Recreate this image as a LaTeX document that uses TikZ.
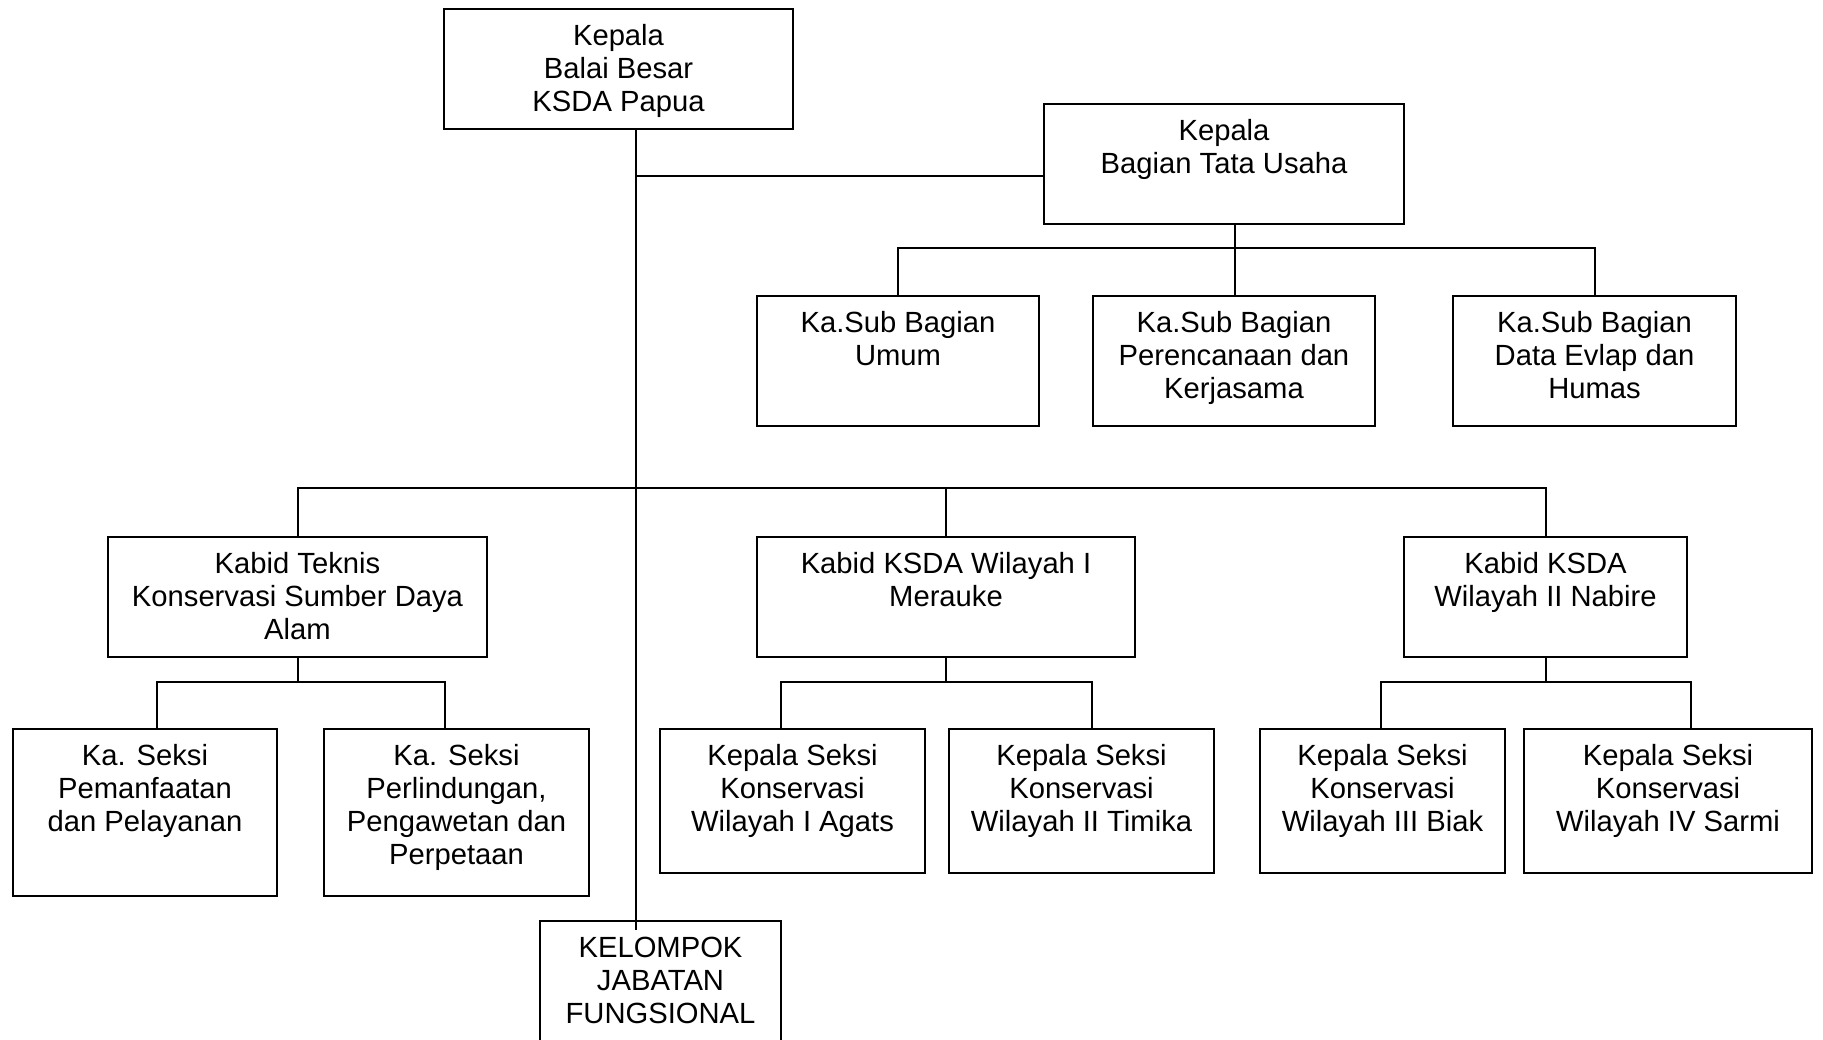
\documentclass[tikz,border=0pt]{standalone}
\usepackage{fontspec}
\setmainfont{Liberation Sans}
\usepackage{tikz}
\usetikzlibrary{positioning}
\usetikzlibrary{calc}

% text of a box, set from the top
\newcommand{\boxlines}[3]{\parbox[t][#2][t]{#1}{\centering\vspace*{6.5pt}\strut#3}}

\begin{document}
\begin{tikzpicture}[x=0.5pt, y=-0.5pt, line width=1pt,
  box/.style={draw, line width=1pt, inner sep=0pt, anchor=north west},
  font=\fontsize{14.6}{16.5}\selectfont]

\useasboundingbox (0,0) rectangle (1823,1039);
\clip (0,0) rectangle (1823,1039);

% top of the chart
\node [box](kepala) at (443,8) {\boxlines{174.5pt}{60pt}{Kepala\\Balai Besar\\KSDA Papua}};
\node [box](tu) at (1043,103) {\boxlines{180pt}{60pt}{Kepala\\Bagian Tata Usaha}};

% sub bagian
\node [box](umum) at (756,295) {\boxlines{141pt}{65pt}{Ka.Sub Bagian\\Umum}};
\node [box](renc) at (1092,295) {\boxlines{141pt}{65pt}{Ka.Sub Bagian\\Perencanaan dan\\Kerjasama}};
\node [box](data) at (1452,295) {\boxlines{141.5pt}{65pt}{Ka.Sub Bagian\\Data Evlap dan\\Humas}};

% kabid
\node [box](teknis) at (107,536) {\boxlines{189.5pt}{60pt}{Kabid Teknis\\Konservasi Sumber Daya\\Alam}};
\node [box](wil1) at (756,536) {\boxlines{189pt}{60pt}{Kabid KSDA Wilayah I\\Merauke}};
\node [box](wil2) at (1403,536) {\boxlines{141.5pt}{60pt}{Kabid KSDA\\Wilayah II Nabire}};

% seksi
\node [box](pem) at (12,728) {\boxlines{132pt}{83.5pt}{Ka. Seksi\\Pemanfaatan\\dan Pelayanan}};
\node [box](perl) at (323,728) {\boxlines{132.5pt}{83.5pt}{Ka. Seksi\\Perlindungan,\\Pengawetan dan\\Perpetaan}};
\node [box](agats) at (659,728) {\boxlines{132.5pt}{72pt}{Kepala Seksi\\Konservasi\\Wilayah I Agats}};
\node [box](timika) at (948,728) {\boxlines{132.5pt}{72pt}{Kepala Seksi\\Konservasi\\Wilayah II Timika}};
\node [box](biak) at (1259,728) {\boxlines{122.5pt}{72pt}{Kepala Seksi\\Konservasi\\Wilayah III Biak}};
\node [box](sarmi) at (1523,728) {\boxlines{144pt}{72pt}{Kepala Seksi\\Konservasi\\Wilayah IV Sarmi}};

\node [box](kjf) at (539,920) {\boxlines{120.5pt}{80pt}{KELOMPOK\\JABATAN\\FUNGSIONAL}};

% main line
\coordinate (trunk) at (636,128);
\coordinate (trunkend) at (636,930);
\draw (trunk) -- (trunkend);

\coordinate (tujoin) at (636,176);
\draw (tujoin) -- (tujoin -| tu.west);

% tata usaha to sub bagian
\coordinate (subbar) at (1235,248);
\draw (subbar |- tu.south) -- (subbar);
\draw (umum.north) |- (subbar) -| (data.north);
\draw (subbar) -- (subbar |- renc.north);

% kabid line
\coordinate (kbar) at (636,488);
\draw (teknis.north) |- (kbar) -| (wil2.north);
\draw (wil1.north) -- (wil1.north |- kbar);

% seksi lines
\draw (teknis.south) -- ++(0,24) coordinate (tbar);
\draw ([xshift=6pt]pem.north) |- (tbar) -| ([xshift=-6pt]perl.north);

\draw (wil1.south) -- ++(0,24) coordinate (w1bar);
\draw ([xshift=-6pt]agats.north) |- (w1bar) -| ([xshift=5pt]timika.north);

\draw (wil2.south) -- ++(0,24) coordinate (w2bar);
\draw ([xshift=-1pt]biak.north) |- (w2bar) -| ([xshift=11.5pt]sarmi.north);

\end{tikzpicture}
\end{document}
